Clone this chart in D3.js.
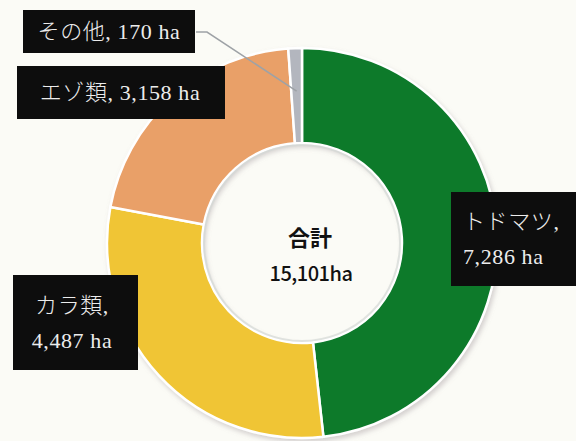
<!DOCTYPE html>
<html>
<head>
<meta charset="utf-8">
<script src="https://cdn.jsdelivr.net/npm/d3@7"></script>
<style>
  html, body { margin: 0; padding: 0; background: #fbfbf6; }
  #chart { width: 576px; height: 441px; overflow: hidden; }
</style>
</head>
<body>
<div id="chart"></div>
<script>
// data
const categories = ["トドマツ", "カラ類", "エゾ類", "その他"];
const areas = [7286, 4487, 3158, 170];
const colors = ["#0b7a2c", "#f0c534", "#e9a068", "#b3b6be"];
const totalLabel = "合計";

const width = 576, height = 441;
const cx = 302, cy = 243;
const rOuter = 195, rInner = 100;

const fmt = d3.format(",");
const total = d3.sum(areas);

// label boxes (layout only)
const boxes = [
  {x: 451, y: 192, w: 130, h: 94, lines: [categories[0] + ",", fmt(areas[0]) + " ha"], anchor: "start", tx: 463},
  {x: 13, y: 275, w: 125, h: 95, lines: [categories[1] + ",", fmt(areas[1]) + " ha"], anchor: "middle", tx: 72},
  {x: 17, y: 66, w: 208, h: 53, lines: [categories[2] + ", " + fmt(areas[2]) + " ha"], anchor: "middle", tx: 120},
  {x: 23, y: 10, w: 172, h: 43, lines: [categories[3] + ", " + fmt(areas[3]) + " ha"], anchor: "middle", tx: 109}
];

const svg = d3.select("#chart").append("svg")
    .attr("width", width)
    .attr("height", height);

svg.append("rect")
    .attr("width", width)
    .attr("height", height)
    .attr("fill", "#fbfbf6");

const defs = svg.append("defs");
const shadow = defs.append("filter")
    .attr("id", "shadow")
    .attr("x", "-20%").attr("y", "-20%")
    .attr("width", "140%").attr("height", "140%");
shadow.append("feDropShadow")
    .attr("dx", 2).attr("dy", 3)
    .attr("stdDeviation", 2.5)
    .attr("flood-color", "#8a7f86")
    .attr("flood-opacity", 0.35);

const pie = d3.pie().sort(null).value(d => d);
const arc = d3.arc().innerRadius(rInner).outerRadius(rOuter);

const g = svg.append("g")
    .attr("transform", `translate(${cx},${cy})`)
    .attr("filter", "url(#shadow)");

g.selectAll("path")
    .data(pie(areas))
    .join("path")
    .attr("d", arc)
    .attr("fill", (d, i) => colors[i])
    .attr("stroke", "#ffffff")
    .attr("stroke-width", 2.5);

// inner hole shading
svg.append("circle")
    .attr("cx", cx).attr("cy", cy)
    .attr("r", rInner - 2)
    .attr("fill", "none")
    .attr("stroke", "#d4d8d6")
    .attr("stroke-width", 2)
    .attr("opacity", 0.7);

// leader line for その他
const small = pie(areas)[3];
const mid = (small.startAngle + small.endAngle) / 2;
const lx = cx + Math.sin(mid) * 152, ly = cy - Math.cos(mid) * 152;
svg.append("polyline")
    .attr("points", `196,32 207,32 ${lx},${ly}`)
    .attr("fill", "none")
    .attr("stroke", "#9ea2a6")
    .attr("stroke-width", 1.5);

// label boxes
const lab = svg.selectAll(".lab")
    .data(boxes)
    .join("g")
    .attr("class", "lab");

lab.append("rect")
    .attr("x", d => d.x).attr("y", d => d.y)
    .attr("width", d => d.w).attr("height", d => d.h)
    .attr("fill", "#0d0d0d");

lab.each(function (d) {
  const n = d.lines.length;
  const step = 35;
  const y0 = d.y + d.h / 2 - (n - 1) * step / 2;
  d3.select(this).selectAll("text")
      .data(d.lines)
      .join("text")
      .attr("x", d.tx)
      .attr("y", (t, i) => y0 + i * step)
      .attr("dy", "0.35em")
      .attr("text-anchor", d.anchor)
      .attr("fill", "#ececec")
      .attr("font-family", "'Liberation Serif', 'DejaVu Serif', 'Noto Sans CJK JP', serif")
      .attr("font-weight", 300)
      .attr("font-size", 22)
      .attr("letter-spacing", 0.6)
      .text(t => t);
});

// center total
svg.append("text")
    .attr("x", 310).attr("y", 238)
    .attr("dy", "0.35em")
    .attr("text-anchor", "middle")
    .attr("font-family", "'Noto Sans CJK JP', sans-serif")
    .attr("font-weight", 700)
    .attr("font-size", 22)
    .attr("fill", "#111")
    .text(totalLabel);

svg.append("text")
    .attr("x", 311).attr("y", 274)
    .attr("dy", "0.35em")
    .attr("text-anchor", "middle")
    .attr("font-family", "'Noto Sans CJK JP', sans-serif")
    .attr("font-weight", 500)
    .attr("font-size", 20)
    .attr("letter-spacing", -0.5)
    .attr("fill", "#111")
    .text(fmt(total) + "ha");
</script>
</body>
</html>
